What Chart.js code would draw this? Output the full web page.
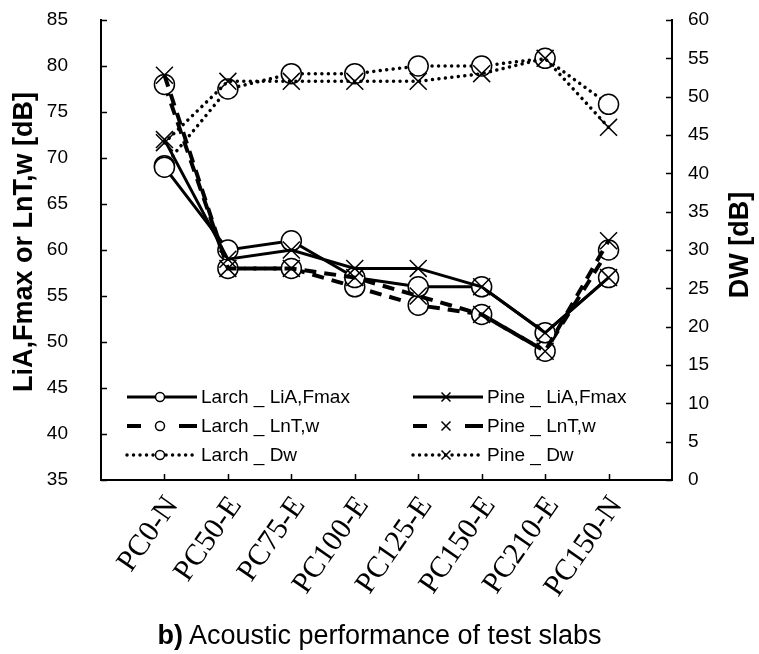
<!DOCTYPE html>
<html>
<head>
<meta charset="utf-8">
<script src="https://cdn.jsdelivr.net/npm/chart.js@4.4.1/dist/chart.umd.min.js"></script>
<style>
  body { margin: 0; background: #fff; }
  #wrap { position: relative; width: 759px; height: 654px; }
  #caption {
    position: absolute; left: 0; top: 620px; width: 759px;
    text-align: center; color: #000;
    font: 27px "Liberation Sans", Arial, sans-serif;
  }
</style>
</head>
<body>
<div id="wrap">
  <canvas id="chart" width="759" height="654"></canvas>
  <div id="caption"><b>b)</b> Acoustic performance of test slabs</div>
</div>
<script>
// data
const categories = ['PC0-N', 'PC50-E', 'PC75-E', 'PC100-E', 'PC125-E', 'PC150-E', 'PC210-E', 'PC150-N'];
const larchLiA = [69, 60, 61, 57, 56, 56, 51, 57];
const pineLiA  = [72, 59, 60, 58, 58, 56, 51, 57];
const larchLnT = [78, 58, 58, 56, 54, 53, 49, 60];
const pineLnT  = [79, 58, 58, 57, 55, 53, 49, 61];
const larchDw  = [41, 51, 53, 53, 54, 54, 55, 49];
const pineDw   = [44, 52, 52, 52, 52, 53, 55, 46];
const leftTicks  = [35, 40, 45, 50, 55, 60, 65, 70, 75, 80, 85];
const rightTicks = [0, 5, 10, 15, 20, 25, 30, 35, 40, 45, 50, 55, 60];
const leftTitle  = 'LiA,Fmax or LnT,w [dB]';
const rightTitle = 'DW [dB]';

const sans = '"Liberation Sans", Arial, sans-serif';
const serif = '"Liberation Serif", "Times New Roman", serif';

const SOLID = [], DASH = [12, 8], DOT = [0.01, 6.5];

function series(label, values, axis, dash, width, marker, order) {
    const isCircle = marker === 'circle';
    return {
        label,
        yAxisID: axis,
        order,
        data: values.map((v, i) => ({ x: i, y: v })),
        borderColor: '#000',
        borderWidth: width,
        borderDash: dash,
        borderCapStyle: dash === DOT ? 'round' : 'butt',
        pointStyle: marker,
        pointRadius: isCircle ? 10 : 12,
        pointBorderWidth: 1.5,
        pointBorderColor: '#000',
        pointBackgroundColor: isCircle ? '#fff' : 'rgba(0,0,0,0)',
        tension: 0,
        fill: false,
    };
}

const datasets = [
    series('Larch _ LiA,Fmax', larchLiA, 'y',  SOLID, 3,   'circle',   1),
    series('Pine _ LiA,Fmax',  pineLiA,  'y',  SOLID, 3,   'crossRot', 0),
    series('Larch _ LnT,w',    larchLnT, 'y',  DASH,  4,   'circle',   1),
    series('Pine _ LnT,w',     pineLnT,  'y',  DASH,  4,   'crossRot', 0),
    series('Larch _ Dw',       larchDw,  'y1', DOT,   3.5, 'circle',   1),
    series('Pine _ Dw',        pineDw,   'y1', DOT,   3.5, 'crossRot', 0),
];

// keep the wide label padding from pushing the plot top down
function fixY(width) {
    return s => { s.width = width; s.paddingTop = 11; s.paddingBottom = 11; };
}

// inside tick marks, rotated axis titles and the two-column legend
const decor = {
    id: 'decor',
    afterDraw(chart) {
        const ctx = chart.ctx;
        const a = chart.chartArea;
        const sx = chart.scales.x, sy = chart.scales.y, sy1 = chart.scales.y1;
        ctx.save();
        ctx.strokeStyle = '#000';
        ctx.lineWidth = 1.5;
        ctx.beginPath();
        leftTicks.forEach(v => {
            const p = Math.round(sy.getPixelForValue(v)) + 0.5;
            ctx.moveTo(a.left, p); ctx.lineTo(a.left + 6, p);
        });
        rightTicks.forEach(v => {
            const p = Math.round(sy1.getPixelForValue(v)) + 0.5;
            ctx.moveTo(a.right, p); ctx.lineTo(a.right - 6, p);
        });
        categories.forEach((c, i) => {
            const p = Math.round(sx.getPixelForValue(i)) + 0.5;
            ctx.moveTo(p, a.bottom); ctx.lineTo(p, a.bottom - 6);
        });
        ctx.stroke();

        ctx.fillStyle = '#000';
        ctx.font = 'bold 27px ' + sans;
        ctx.textAlign = 'center';
        ctx.textBaseline = 'middle';
        [[leftTitle, 25, 242], [rightTitle, 741, 245]].forEach(([t, x, y]) => {
            ctx.save();
            ctx.translate(x, y);
            ctx.rotate(-Math.PI / 2);
            ctx.fillText(t, 0, 0);
            ctx.restore();
        });

        // legend
        const colX = [127, 413];
        ctx.font = '19px ' + sans;
        ctx.textAlign = 'left';
        chart.data.datasets.forEach((ds, i) => {
            const x0 = colX[i % 2];
            const y = 397 + Math.floor(i / 2) * 29;
            ctx.lineWidth = ds.borderWidth;
            ctx.lineCap = ds.borderCapStyle;
            ctx.beginPath();
            if (ds.borderDash === DASH) {
                ctx.setLineDash([]);
                ctx.moveTo(x0, y); ctx.lineTo(x0 + 14, y);
                ctx.moveTo(x0 + 52, y); ctx.lineTo(x0 + 70, y);
            } else {
                ctx.setLineDash(ds.borderDash);
                ctx.moveTo(x0, y); ctx.lineTo(x0 + 70, y);
            }
            ctx.stroke();
            ctx.setLineDash([]);
            ctx.lineCap = 'butt';
            ctx.lineWidth = 1.5;
            const mx = x0 + 33;
            ctx.beginPath();
            if (ds.pointStyle === 'circle') {
                ctx.fillStyle = '#fff';
                ctx.arc(mx, y, 4.5, 0, Math.PI * 2);
                ctx.fill();
                ctx.stroke();
            } else {
                ctx.moveTo(mx - 4.5, y - 4.5); ctx.lineTo(mx + 4.5, y + 4.5);
                ctx.moveTo(mx + 4.5, y - 4.5); ctx.lineTo(mx - 4.5, y + 4.5);
                ctx.stroke();
            }
            ctx.fillStyle = '#000';
            ctx.fillText(ds.label, x0 + 74, y + 1);
        });
        ctx.restore();
    }
};

new Chart(document.getElementById('chart'), {
    type: 'line',
    data: { datasets },
    options: {
        responsive: false,
        animation: false,
        layout: { padding: { top: 20, left: 0, right: 0, bottom: 0 } },
        plugins: { legend: { display: false }, tooltip: { enabled: false } },
        scales: {
            x: {
                type: 'linear',
                min: -1,
                max: 8,
                afterBuildTicks: s => { s.ticks = categories.map((c, i) => ({ value: i })); },
                afterFit: s => { s.height = 174; },
                grid: { display: false, drawTicks: false },
                border: { display: true, color: '#000', width: 2 },
                ticks: {
                    autoSkip: false,
                    minRotation: 55,
                    maxRotation: 55,
                    padding: 10,
                    labelOffset: 8,
                    color: '#000',
                    font: { family: serif, size: 30 },
                    callback: v => categories[v],
                },
            },
            y: {
                position: 'left',
                min: 35,
                max: 85,
                afterBuildTicks: s => { s.ticks = leftTicks.map(v => ({ value: v })); },
                afterFit: fixY(101),
                grid: { display: false, drawTicks: false },
                border: { display: true, color: '#000', width: 2 },
                ticks: { padding: 33, color: '#000', font: { family: sans, size: 19 } },
            },
            y1: {
                position: 'right',
                min: 0,
                max: 60,
                afterBuildTicks: s => { s.ticks = rightTicks.map(v => ({ value: v })); },
                afterFit: fixY(87),
                grid: { display: false, drawTicks: false },
                border: { display: true, color: '#000', width: 2 },
                ticks: { padding: 16, color: '#000', font: { family: sans, size: 19 } },
            },
        },
    },
    plugins: [decor],
});
</script>
</body>
</html>
